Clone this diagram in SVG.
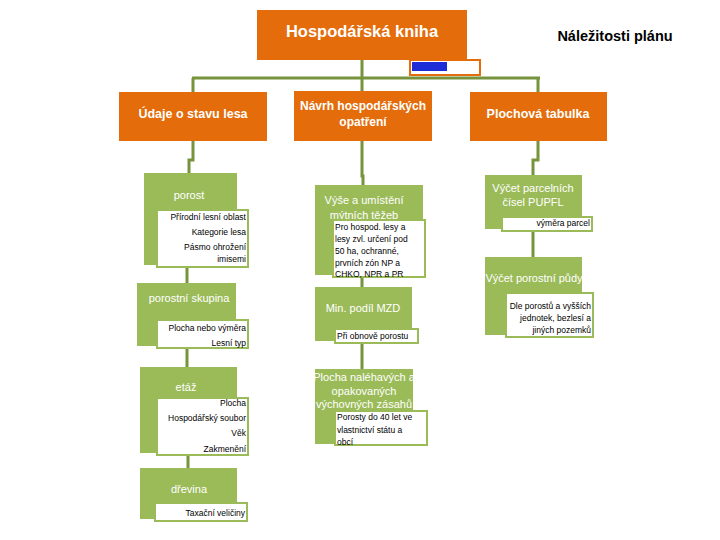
<svg xmlns="http://www.w3.org/2000/svg" width="720" height="540" viewBox="0 0 720 540">
<style>
.or{fill:#E46C0A}
.gr{fill:#9BBB59}
.wb{fill:#FFFFFF;stroke:#9BBB59;stroke-width:2}
.ln{stroke:#77933C;stroke-width:3;fill:none}
.ot{font-family:"Liberation Sans",Arial,sans-serif;font-weight:bold;fill:#FFFFFF;text-anchor:middle}
.gt{font-family:"Liberation Sans",Arial,sans-serif;font-size:11px;fill:#FFFFFF;text-anchor:middle}
.st{font-family:"Liberation Sans",Arial,sans-serif;font-size:8.5px;fill:#000000}
.r{text-anchor:end}
</style>
<rect width="720" height="540" fill="#FFFFFF"/>
<g id="connectors">
<path class="ln" d="M362 60 V78 M192 78 H540 M193 78 V92 M362 78 V91 M538 78 V92"/>
<path class="ln" d="M193 141 V160 H189 V173"/>
<path class="ln" d="M187 267 V283"/>
<path class="ln" d="M187 348 V367"/>
<path class="ln" d="M188 455 V468"/>
<path class="ln" d="M362 141 V176 H363 V185"/>
<path class="ln" d="M362 277 V287"/>
<path class="ln" d="M362 343 V369"/>
<path class="ln" d="M538 141 V160 H533 V175"/>
<path class="ln" d="M533 231 V257"/>
</g>
<g id="root">
<rect class="or" x="257" y="10" width="210" height="50"/>
<text class="ot" x="362" y="37" font-size="16.5">Hospodářská kniha</text>
</g>
<g id="marker">
<rect x="410" y="60" width="70" height="15" fill="#FFFFFF" stroke="#E46C0A" stroke-width="2"/>
<rect x="412" y="62" width="35" height="9" fill="#1C2DD8"/>
</g>
<g id="title">
<text x="615" y="41" font-family="Liberation Sans,Arial,sans-serif" font-weight="bold" font-size="14.5" text-anchor="middle" fill="#000000">Náležitosti plánu</text>
</g>
<g id="udaje">
<rect class="or" x="119" y="92" width="148" height="49"/>
<text class="ot" x="193" y="118" font-size="12.5">Údaje o stavu lesa</text>
</g>
<g id="navrh">
<rect class="or" x="294" y="91" width="138" height="50"/>
<text class="ot" x="363" y="110" font-size="12">Návrh hospodářských</text>
<text class="ot" x="363" y="126" font-size="12">opatření</text>
</g>
<g id="plochova">
<rect class="or" x="470" y="92" width="137" height="49"/>
<text class="ot" x="538" y="118" font-size="12.5">Plochová tabulka</text>
</g>
<g id="porost">
<rect class="gr" x="144" y="173" width="93" height="92"/>
<text class="gt" x="189" y="199">porost</text>
<rect class="wb" x="157" y="210" width="91" height="57"/>
<text class="st r" x="246" y="220">Přírodní lesní oblast</text>
<text class="st r" x="246" y="235">Kategorie lesa</text>
<text class="st r" x="246" y="250">Pásmo ohrožení</text>
<text class="st r" x="246" y="262">imisemi</text>
</g>
<g id="porostni-skupina">
<rect class="gr" x="137" y="283" width="99" height="63"/>
<text class="gt" x="189" y="302">porostní skupina</text>
<rect class="wb" x="157" y="320" width="91" height="28"/>
<text class="st r" x="246" y="331">Plocha nebo výměra</text>
<text class="st r" x="246" y="346">Lesní typ</text>
</g>
<g id="etaz">
<rect class="gr" x="140" y="367" width="97" height="86"/>
<text class="gt" x="186" y="391">etáž</text>
<rect class="wb" x="157" y="398" width="91" height="57"/>
<text class="st r" x="246" y="406">Plocha</text>
<text class="st r" x="246" y="421">Hospodářský soubor</text>
<text class="st r" x="246" y="436">Věk</text>
<text class="st r" x="246" y="452">Zakmenění</text>
</g>
<g id="drevina">
<rect class="gr" x="140" y="468" width="97" height="51"/>
<text class="gt" x="189" y="493">dřevina</text>
<rect class="wb" x="155" y="503" width="92" height="18"/>
<text class="st r" x="245" y="516">Taxační veličiny</text>
</g>
<g id="vyse">
<rect class="gr" x="315" y="185" width="108" height="90"/>
<text class="gt" x="364" y="204">Výše a umístění</text>
<text class="gt" x="364" y="219">mýtních těžeb</text>
<rect class="wb" x="333" y="220" width="92" height="57"/>
<text class="st" x="335" y="230">Pro hospod. lesy a</text>
<text class="st" x="335" y="242">lesy zvl. určení pod</text>
<text class="st" x="335" y="254">50 ha, ochranné,</text>
<text class="st" x="335" y="266">prvních zón NP a</text>
<text class="st" x="335" y="277">CHKO, NPR a PR</text>
</g>
<g id="mzd">
<rect class="gr" x="315" y="287" width="97" height="54"/>
<text class="gt" x="363" y="312">Min. podíl MZD</text>
<rect class="wb" x="335" y="329" width="83" height="14"/>
<text class="st" x="337" y="339">Při obnově porostu</text>
</g>
<g id="plocha-zasahu">
<rect class="gr" x="315" y="369" width="98" height="75"/>
<text class="gt" x="364" y="381">Plocha naléhavých a</text>
<text class="gt" x="364" y="395">opakovaných</text>
<text class="gt" x="364" y="408">výchovných zásahů</text>
<rect class="wb" x="335" y="411" width="92" height="34"/>
<text class="st" x="337" y="420">Porosty do 40 let ve</text>
<text class="st" x="337" y="433">vlastnictví státu a</text>
<text class="st" x="337" y="445">obcí</text>
</g>
<g id="vycet-parcel">
<rect class="gr" x="485" y="175" width="97" height="54"/>
<text class="gt" x="533" y="192">Výčet parcelních</text>
<text class="gt" x="533" y="206">čísel PUPFL</text>
<rect class="wb" x="502" y="217" width="90" height="14"/>
<text class="st r" x="590" y="226">výměra parcel</text>
</g>
<g id="vycet-pudy">
<rect class="gr" x="485" y="257" width="97" height="78"/>
<text class="gt" x="534" y="282">Výčet porostní půdy</text>
<rect class="wb" x="506" y="293" width="87" height="44"/>
<text class="st r" x="591" y="309">Dle porostů a vyšších</text>
<text class="st r" x="591" y="321">jednotek, bezlesí a</text>
<text class="st r" x="591" y="333">jiných pozemků</text>
</g>
</svg>
